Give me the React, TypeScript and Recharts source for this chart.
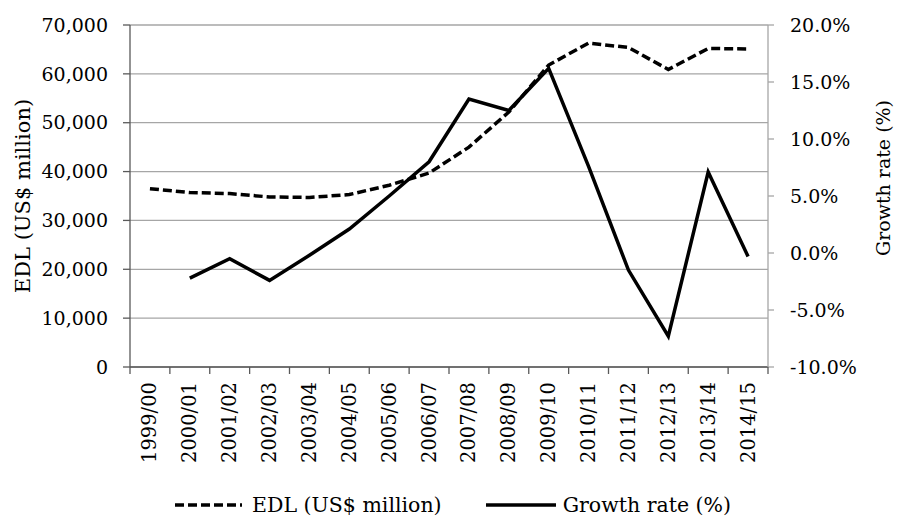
import React from 'react';
import { LineChart, Line, XAxis, YAxis, CartesianGrid, Legend, Label } from 'recharts';

const categories = [
  '1999/00', '2000/01', '2001/02', '2002/03', '2003/04', '2004/05', '2005/06', '2006/07',
  '2007/08', '2008/09', '2009/10', '2010/11', '2011/12', '2012/13', '2013/14', '2014/15',
];
const edlValues = [36500, 35700, 35500, 34800, 34700, 35300, 37200, 39700, 45000, 52200, 61800, 66300, 65400, 60900, 65200, 65100];
const growthValues = [null, -2.2, -0.5, -2.4, -0.2, 2.1, 5.0, 8.0, 13.5, 12.5, 16.2, 7.6, -1.5, -7.3, 7.1, -0.3];
const leftTicks = [0, 10000, 20000, 30000, 40000, 50000, 60000, 70000];
const rightTicks = [-10, -5, 0, 5, 10, 15, 20];

const FONT = '"DejaVu Serif", serif';
const DARK = '#595959';
const LIGHT = '#a6a6a6';
const DASH = '9 4';

// numeric x axis: points sit in the middle of each band, ticks on the band edges
const data = categories.map((c, i) => ({ pos: i + 0.5, year: c, edl: edlValues[i], growth: growthValues[i] }));
const xTicks: number[] = [];
for (let i = 0; i <= categories.length * 2; i++) xTicks.push(i / 2);

const XTick = (props: any) => {
  const { x, y, payload } = props;
  const v = payload.value;
  if (Number.isInteger(v)) {
    return <line x1={x} x2={x} y1={y} y2={y + 7} stroke={DARK} strokeWidth={1.3} />;
  }
  const label = categories[Math.floor(v)];
  return (
    <text x={x} y={y + 15} transform={`rotate(-90, ${x}, ${y + 15})`} textAnchor="end" dominantBaseline="central"
      fontFamily={FONT} fontSize={19.5} fill="#000">
      {label}
    </text>
  );
};

const RightTitle = (props: any) => {
  const vb = props.viewBox;
  const cx = vb.x + vb.width - 14;
  const cy = vb.y + vb.height / 2 - 18;
  return (
    <text x={cx} y={cy} transform={`rotate(-90, ${cx}, ${cy})`} textAnchor="middle" dominantBaseline="central"
      fontFamily={FONT} fontSize={19} fill="#000">
      Growth rate (%)
    </text>
  );
};

const LegendContent = () => (
  <div style={{ height: 26, width: 897, display: 'flex', alignItems: 'center', paddingLeft: 175, boxSizing: 'border-box', fontFamily: FONT, fontSize: 20.5, color: '#000', whiteSpace: 'nowrap' }}>
    <svg width={67} height={10}><line x1={0} x2={67} y1={5} y2={5} stroke="#000" strokeWidth={3.5} strokeDasharray={DASH} /></svg>
    <span style={{ marginLeft: 10 }}>EDL (US$ million)</span>
    <svg width={70} height={10} style={{ marginLeft: 44 }}><line x1={0} x2={70} y1={5} y2={5} stroke="#000" strokeWidth={3.5} /></svg>
    <span style={{ marginLeft: 7 }}>Growth rate (%)</span>
  </div>
);

export default function App() {
  return (
    <div style={{ position: 'absolute', left: 0, top: 0, background: '#fff' }}>
      <LineChart width={897} height={518} data={data} margin={{ top: 25, right: 0, left: 0, bottom: 0 }}>
        <CartesianGrid yAxisId="left" vertical={false} stroke={LIGHT} strokeWidth={1.3} />
        <XAxis dataKey="pos" type="number" domain={[0, categories.length]} ticks={xTicks} interval={0}
          tick={<XTick />} tickLine={false} tickSize={0} tickMargin={0} height={125}
          axisLine={{ stroke: DARK, strokeWidth: 1.3 }} />
        <YAxis yAxisId="left" domain={[0, 70000]} ticks={leftTicks} width={130} interval={0}
          tickFormatter={(v: number) => v.toLocaleString('en-US')}
          tick={{ fontFamily: FONT, fontSize: 19, fill: '#000' }}
          tickSize={7} tickMargin={15} tickLine={{ stroke: DARK, strokeWidth: 1.3 }}
          axisLine={{ stroke: DARK, strokeWidth: 1.3 }}
          label={{ value: 'EDL (US$ million)', angle: -90, position: 'insideLeft', offset: 23,
            style: { textAnchor: 'middle', fontFamily: FONT, fontSize: 21, fill: '#000' } }} />
        <YAxis yAxisId="right" orientation="right" domain={[-10, 20]} ticks={rightTicks} width={129} interval={0}
          tickFormatter={(v: number) => v.toFixed(1) + '%'}
          tick={{ fontFamily: FONT, fontSize: 19, fill: '#000', textAnchor: 'start' }}
          tickSize={6} tickMargin={16} tickLine={{ stroke: LIGHT, strokeWidth: 1.3 }}
          axisLine={{ stroke: LIGHT, strokeWidth: 1.3 }}>
          <Label content={<RightTitle />} />
        </YAxis>
        <Line yAxisId="left" dataKey="edl" type="linear" stroke="#000" strokeWidth={3.5} strokeDasharray={DASH}
          dot={false} isAnimationActive={false} />
        <Line yAxisId="right" dataKey="growth" type="linear" stroke="#000" strokeWidth={3.5}
          dot={false} isAnimationActive={false} />
        <Legend verticalAlign="bottom" content={<LegendContent />} />
      </LineChart>
    </div>
  );
}
